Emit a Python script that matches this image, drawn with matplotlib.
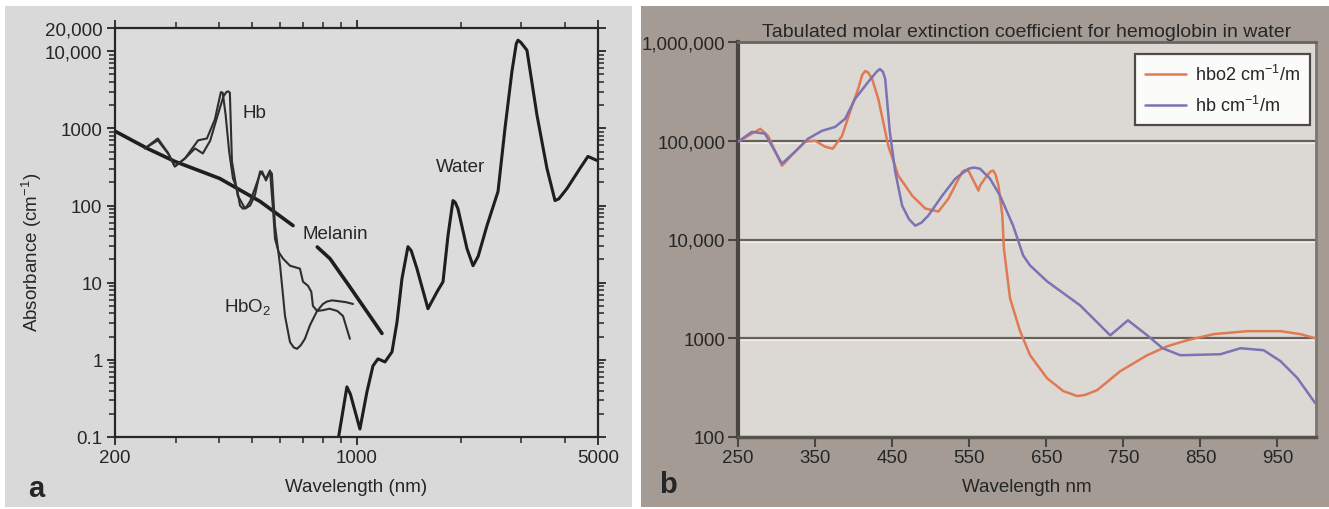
import matplotlib
matplotlib.use("Agg")
import matplotlib.pyplot as plt
import matplotlib.transforms as mtransforms
from matplotlib.patches import Rectangle
from matplotlib.ticker import FixedLocator, NullFormatter

plt.rcParams['font.family'] = ['Liberation Sans', 'DejaVu Sans']
plt.rcParams['mathtext.fontset'] = 'custom'
plt.rcParams['mathtext.rm'] = 'Liberation Sans'
plt.rcParams['mathtext.it'] = 'Liberation Sans:italic'

# ---- panel a: absorbance of tissue chromophores (log-log) ----
hbo2_a_wl = [244, 266, 285, 298, 319, 348, 369, 389, 400, 405, 410, 418, 428, 439, 451, 460, 469, 480,
             492, 508, 526, 533, 547, 562, 569, 581, 601, 621, 642, 658, 673, 690, 709, 733, 769, 800,
             821, 850, 878, 930, 977]
hbo2_a_val = [550, 740, 480, 321, 410, 700, 740, 1300, 2300, 2950, 2900, 1500, 500, 224, 166, 100, 91, 96,
              113, 166, 260, 277, 211, 277, 260, 55, 16.6, 3.7, 1.7, 1.45, 1.39, 1.55, 1.87, 2.8, 4.3,
              5.3, 5.7, 5.9, 5.8, 5.6, 5.3]

hb_a_wl = [244, 266, 285, 298, 319, 341, 359, 377, 395, 412, 420, 425, 430, 436, 453, 476, 492, 508, 526,
           547, 562, 575, 581, 595, 613, 642, 686, 700, 724, 740, 748, 769, 800, 835, 880, 914, 957]
hb_a_val = [550, 700, 470, 321, 408, 550, 473, 690, 1400, 2600, 2950, 3025, 2900, 373, 135, 91, 100, 135,
            277, 224, 285, 74, 37, 25, 20.5, 16.6, 15.2, 10.3, 9.1, 7.6, 5.0, 4.3, 4.4, 4.6, 4.3, 3.7,
            1.87]

melanin_wl_1 = [200, 248, 298, 402, 526, 655]
melanin_val_1 = [920, 550, 373, 224, 113, 55]
melanin_wl_2 = [770, 838, 957, 1185]
melanin_val_2 = [29, 20.5, 8.8, 2.2]

water_wl = [884, 938, 960, 1023, 1072, 1116, 1154, 1209, 1267, 1310, 1354, 1409, 1440, 1496, 1610, 1710,
            1780, 1840, 1902, 1930, 1966, 2088, 2174, 2250, 2386, 2568, 2690, 2818, 2900, 2934, 2990,
            3114, 3330, 3558, 3754, 3850, 4066, 4434, 4676, 4966]
water_val = [0.09, 0.446, 0.36, 0.127, 0.384, 0.836, 1.03, 0.94, 1.27, 3.1, 11.3, 29.3, 26, 15.2, 4.6,
             7.6, 10.3, 40.8, 116, 110, 91, 27.7, 16.6, 22, 55, 152, 1000, 5500, 12500, 13900, 13000,
             10300, 1475, 303, 116, 122, 166, 303, 433, 384]

a_yticks = [0.1, 1, 10, 100, 1000, 10000, 20000]
a_yticklabels = ['0.1', '1', '10', '100', '1000', '10,000', '20,000']
a_xticks = [200, 1000, 5000]
a_xminor = [300, 400, 500, 600, 700, 800, 900, 2000, 3000, 4000]

# ---- panel b: tabulated molar extinction of hemoglobin ----
hbo2_wl = [250, 263, 279, 289, 307, 324, 337, 350, 363, 373, 385, 398, 406, 411, 415, 419, 424, 432,
           445, 458, 476, 493, 510, 523, 541, 545, 549, 562, 564, 573, 578, 581, 584, 588, 593, 595,
           603, 616, 629, 651, 672, 690, 700, 716, 746, 781, 807, 833, 867, 911, 954, 980, 999]
hbo2_val = [97700, 112000, 132000, 112000, 55900, 77400, 97700, 100000, 87000, 83000, 112000, 226000,
            335000, 460000, 509000, 490000, 423000, 266000, 89000, 44300, 27800, 20600, 19200, 25900,
            48600, 50500, 49800, 31300, 35100, 44300, 49000, 49800, 46000, 35100, 17500, 8110, 2540,
            1180, 673, 394, 292, 260, 266, 298, 464, 673, 830, 955, 1100, 1180, 1180, 1100, 1000]

hb_wl = [250, 268, 285, 307, 324, 341, 359, 376, 389, 402, 419, 430, 434, 438, 441, 447, 454, 463, 472,
         480, 488, 497, 515, 532, 549, 556, 564, 577, 590, 607, 620, 629, 651, 694, 733, 756, 781, 801,
         824, 876, 902, 932, 954, 976, 999]
hb_val = [97700, 123000, 118000, 58600, 77400, 105000, 126000, 138000, 167000, 266000, 395000, 500000,
          533000, 500000, 423000, 123000, 48600, 22000, 16000, 13800, 14800, 17500, 27800, 41300, 52100,
          53500, 52100, 41300, 27800, 13800, 6890, 5460, 3770, 2150, 1070, 1520, 1070, 792, 673, 689,
          792, 757, 586, 394, 220]

b_yticks = [100, 1000, 10000, 100000, 1000000]
b_yticklabels = ['100', '1000', '10,000', '100,000', '1,000,000']
b_xticks = [250, 350, 450, 550, 650, 750, 850, 950]

W, H = 1329, 510
fig = plt.figure(figsize=(W / 100, H / 100), dpi=100)
fig.patch.set_facecolor('white')

# panel backgrounds
fig.patches.append(Rectangle((5 / W, 2 / H), 627 / W, 501 / H, transform=fig.transFigure,
                             facecolor='#d9d9d9', edgecolor='none', zorder=-10))
fig.patches.append(Rectangle((641 / W, 2 / H), 688 / W, 501 / H, transform=fig.transFigure,
                             facecolor='#a39b94', edgecolor='none', zorder=-10))

ink = '#262626'
fs = 13.5

# ---------------- a ----------------
ax1 = fig.add_axes([115 / W, 1 - 438 / H, 483 / W, 409 / H])
ax1.set_facecolor('#dcdcdc')
ax1.set_xscale('log')
ax1.set_yscale('log')
ax1.set_xlim(200, 5000)
ax1.set_ylim(0.1, 20000)

line_kw = dict(solid_joinstyle='round', solid_capstyle='round')
ax1.plot(melanin_wl_1, melanin_val_1, color='#1e1e1e', lw=2.6, **line_kw)
ax1.plot(melanin_wl_2, melanin_val_2, color='#1e1e1e', lw=2.6, **line_kw)
ax1.plot(hbo2_a_wl, hbo2_a_val, color='#2e2e2e', lw=1.5, **line_kw)
ax1.plot(hb_a_wl, hb_a_val, color='#2e2e2e', lw=1.5, **line_kw)
ax1.plot(water_wl, water_val, color='#1e1e1e', lw=2.2, **line_kw)

ax1.text(505, 1614, 'Hb', fontsize=fs, color=ink, ha='center', va='center')
ax1.text(866, 43, 'Melanin', fontsize=fs, color=ink, ha='center', va='center')
ax1.text(485, 5.0, 'HbO$_2$', fontsize=fs, color=ink, ha='center', va='center')
ax1.text(2006, 321, 'Water', fontsize=fs, color=ink, ha='center', va='center')

ax1.yaxis.set_major_locator(FixedLocator(a_yticks))
ax1.set_yticklabels(a_yticklabels)
ax1.xaxis.set_major_locator(FixedLocator(a_xticks))
ax1.set_xticklabels([str(t) for t in a_xticks])
ax1.xaxis.set_minor_locator(FixedLocator(a_xminor))
ax1.xaxis.set_minor_formatter(NullFormatter())
ax1.tick_params(which='both', direction='out', top=True, right=True, color=ink, labelsize=fs,
                labelcolor=ink, pad=3)
ax1.tick_params(which='major', length=6, width=1.3)
ax1.tick_params(which='minor', length=4, width=1.1)
for s in ax1.spines.values():
    s.set_color(ink)
    s.set_linewidth(1.6)

ax1.set_ylabel('Absorbance (cm$^{-1}$)', fontsize=fs, color=ink)
ax1.yaxis.set_label_coords(-0.148, 0.455)
ax1.set_xlabel('Wavelength (nm)', fontsize=fs, color=ink)
ax1.xaxis.set_label_coords(0.5, -0.1)

fig.text(36 / W, 1 - 489 / H, 'a', fontsize=21, fontweight='bold', color=ink, ha='center', va='center')

# ---------------- b ----------------
ax2 = fig.add_axes([738 / W, 1 - 438 / H, 578 / W, 395 / H])
ax2.set_facecolor('#dcd8d4')
ax2.set_yscale('log')
ax2.set_xlim(250, 1000)
ax2.set_ylim(100, 1000000)

# embossed horizontal grid lines
shade = mtransforms.offset_copy(ax2.get_yaxis_transform(), fig=fig, y=-2, units='dots')
for v in b_yticks[1:-1]:
    ax2.plot([0, 1], [v, v], transform=shade, color='#f3f1ef', lw=1.2, zorder=1)
    ax2.axhline(v, color='#66605b', lw=1.6, zorder=1.5)

ax2.plot(hbo2_wl, hbo2_val, color='#e07a55', lw=1.8, zorder=3, label='hbo2 cm$^{-1}$/m', **line_kw)
ax2.plot(hb_wl, hb_val, color='#7b73b2', lw=1.8, zorder=3, label='hb cm$^{-1}$/m', **line_kw)

leg = ax2.legend(loc='upper right', bbox_to_anchor=(0.9896, 0.9696), fontsize=fs - 0.5, frameon=True,
                 fancybox=False, framealpha=1, edgecolor='#4f4a46', handlelength=2.3,
                 borderpad=0.55, labelspacing=0.6, borderaxespad=0, handletextpad=0.5)
leg.get_frame().set_facecolor('#fbfbfa')
leg.get_frame().set_linewidth(1.6)
for t in leg.get_texts():
    t.set_color(ink)

ax2.yaxis.set_major_locator(FixedLocator(b_yticks))
ax2.set_yticklabels(b_yticklabels)
ax2.yaxis.set_minor_locator(FixedLocator([]))
ax2.set_xticks(b_xticks)
ax2.tick_params(direction='out', length=7, width=1.5, color='#4a4540', labelsize=fs, labelcolor=ink,
                pad=2)
ax2.spines['left'].set_color('#4a4540')
ax2.spines['left'].set_linewidth(3)
ax2.spines['bottom'].set_color('#57514c')
ax2.spines['bottom'].set_linewidth(2.5)
ax2.spines['top'].set_color('#6a645f')
ax2.spines['top'].set_linewidth(2)
ax2.spines['right'].set_color('#7d7670')
ax2.spines['right'].set_linewidth(2)

ax2.set_title('Tabulated molar extinction coefficient for hemoglobin in water', fontsize=14,
              color=ink, pad=4)
ax2.set_xlabel('Wavelength nm', fontsize=fs, color=ink)
ax2.xaxis.set_label_coords(0.5, -0.103)

fig.text(668 / W, 1 - 485 / H, 'b', fontsize=21, fontweight='bold', color=ink, ha='center', va='center')

fig.savefig('out.png', dpi=100, facecolor=fig.get_facecolor())
